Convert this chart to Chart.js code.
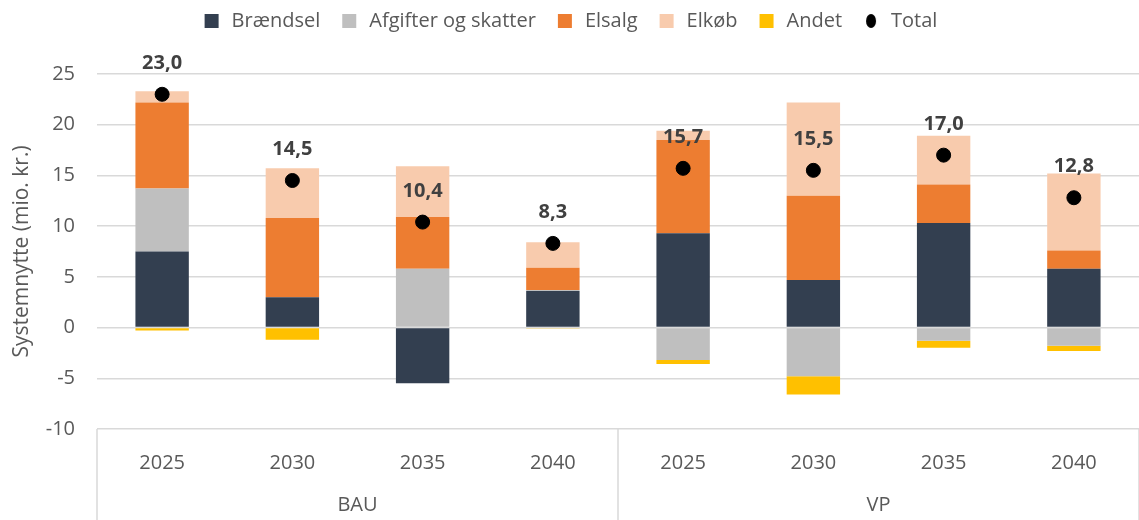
<!DOCTYPE html>
<html>
<head>
<meta charset="utf-8">
<script src="https://cdn.jsdelivr.net/npm/chart.js@4.4.1/dist/chart.umd.min.js"></script>
<style>
    html, body { margin: 0; padding: 0; background: #fff; }
    #wrap { width: 1139px; height: 520px; position: relative; }
</style>
</head>
<body>
<div id="wrap"><canvas id="chart"></canvas></div>
<script>
// chart data
const years = ['2025', '2030', '2035', '2040', '2025', '2030', '2035', '2040'];
const groups = ['BAU', 'VP'];
const braendsel = [7.5, 3.0, -5.5, 3.6, 9.3, 4.7, 10.3, 5.8];
const afgifter = [6.2, 0, 5.8, 0.1, -3.2, -4.8, -1.3, -1.8];
const elsalg = [8.5, 7.8, 5.1, 2.2, 9.2, 8.3, 3.8, 1.8];
const elkoeb = [1.1, 4.9, 5.0, 2.5, 0.9, 9.2, 4.8, 7.6];
const andet = [-0.3, -1.2, 0, -0.1, -0.4, -1.8, -0.7, -0.5];
const total = [23.0, 14.5, 10.4, 8.3, 15.7, 15.5, 17.0, 12.8];
const yTicks = [-10, -5, 0, 5, 10, 15, 20, 25];

const FONT = "'Open Sans', 'Noto Sans', sans-serif";
const TEXT = '#595959';
const GRID = '#d9d9d9';

// small dot for the Total legend entry
const dot = document.createElement('canvas');
dot.width = 12; dot.height = 14;
(() => {
    const c = dot.getContext('2d');
    c.fillStyle = '#000';
    c.beginPath();
    c.ellipse(6, 7, 5, 7, 0, 0, Math.PI * 2);
    c.fill();
})();

const barSet = (label, data, color) => ({
    label, data,
    backgroundColor: color,
    borderWidth: 0,
    pointStyle: 'rect',
    stack: 'bars',
    order: 1,
    barPercentage: 0.41,
    categoryPercentage: 1
});

// total labels above the dots
const totalLabels = {
    id: 'totalLabels',
    afterDatasetsDraw(chart) {
        const meta = chart.getDatasetMeta(5);
        const ctx = chart.ctx;
        ctx.save();
        ctx.font = 'bold 20px ' + FONT;
        ctx.fillStyle = '#404040';
        ctx.textAlign = 'center';
        ctx.textBaseline = 'middle';
        meta.data.forEach((pt, i) => {
            ctx.fillText(total[i].toFixed(1).replace('.', ','), pt.x, pt.y - 31);
        });
        ctx.restore();
    }
};

// second level of the category axis (BAU / VP) with separators
const groupAxis = {
    id: 'groupAxis',
    afterDraw(chart) {
        const x = chart.scales.x;
        const ctx = chart.ctx;
        const top = chart.chartArea.bottom;
        const bottom = chart.height;
        const mid = (x.getPixelForValue(3) + x.getPixelForValue(4)) / 2;
        ctx.save();
        ctx.strokeStyle = GRID;
        ctx.lineWidth = 1.5;
        [x.left, mid, x.right].forEach(px => {
            ctx.beginPath();
            ctx.moveTo(px, top);
            ctx.lineTo(px, bottom);
            ctx.stroke();
        });
        ctx.font = '20px ' + FONT;
        ctx.fillStyle = TEXT;
        ctx.textAlign = 'center';
        ctx.textBaseline = 'middle';
        ctx.fillText(groups[0], (x.left + mid) / 2, 505);
        ctx.fillText(groups[1], (mid + x.right) / 2, 505);
        ctx.restore();
    }
};

// fixed legend band height, and lift the legend row up inside it
const legendBand = {
    id: 'legendBand',
    beforeInit(chart) {
        const fit = chart.legend.fit;
        chart.legend.fit = function () {
            fit.bind(this)();
            this.height = 74;
        };
    },
    afterLayout(chart) {
        chart.legend.top -= 8;
        chart.legend.bottom -= 8;
    }
};

new Chart(document.getElementById('chart'), {
    type: 'bar',
    data: {
        labels: years,
        datasets: [
            barSet('Brændsel', braendsel, '#333f50'),
            barSet('Afgifter og skatter', afgifter, '#bfbfbf'),
            barSet('Elsalg', elsalg, '#ed7d31'),
            barSet('Elkøb', elkoeb, '#f8cbad'),
            barSet('Andet', andet, '#ffc000'),
            {
                type: 'line',
                label: 'Total',
                data: total,
                showLine: false,
                pointStyle: 'circle',
                pointRadius: 7,
                pointHoverRadius: 7,
                pointBackgroundColor: '#000',
                pointBorderColor: '#000',
                stack: 'total',
                order: 0
            }
        ]
    },
    options: {
        responsive: true,
        maintainAspectRatio: false,
        animation: false,
        layout: { padding: 0, autoPadding: false },
        plugins: {
            legend: {
                position: 'top',
                labels: {
                    usePointStyle: true,
                    boxHeight: 14,
                    padding: 19,
                    color: TEXT,
                    font: { family: FONT, size: 20 },
                    sort: (a, b) => a.datasetIndex - b.datasetIndex,
                    generateLabels(chart) {
                        const items = Chart.defaults.plugins.legend.labels.generateLabels(chart);
                        items.forEach(it => {
                            if (it.text === 'Total') it.pointStyle = dot;
                            it.lineWidth = 0;
                        });
                        return items;
                    }
                }
            },
            tooltip: { enabled: false }
        },
        scales: {
            x: {
                stacked: true,
                grid: { display: false },
                border: { display: false },
                ticks: { color: TEXT, font: { family: FONT, size: 20 }, padding: 14 },
                afterFit(s) {
                    s.height = 91;
                    s.paddingLeft = 0;
                    s.paddingRight = 0;
                }
            },
            y: {
                stacked: true,
                min: -10,
                max: 25,
                afterBuildTicks(s) { s.ticks = yTicks.map(v => ({ value: v })); },
                grid: { color: GRID, lineWidth: 1.5, drawTicks: false },
                border: { display: false },
                ticks: { color: TEXT, font: { family: FONT, size: 20 }, padding: 22 },
                title: {
                    display: true,
                    text: 'Systemnytte (mio. kr.)',
                    color: TEXT,
                    font: { family: FONT, size: 21 },
                    padding: { top: 9, bottom: 0 }
                },
                afterFit(s) { s.width = 97; }
            }
        }
    },
    plugins: [totalLabels, groupAxis, legendBand]
});
</script>
</body>
</html>
